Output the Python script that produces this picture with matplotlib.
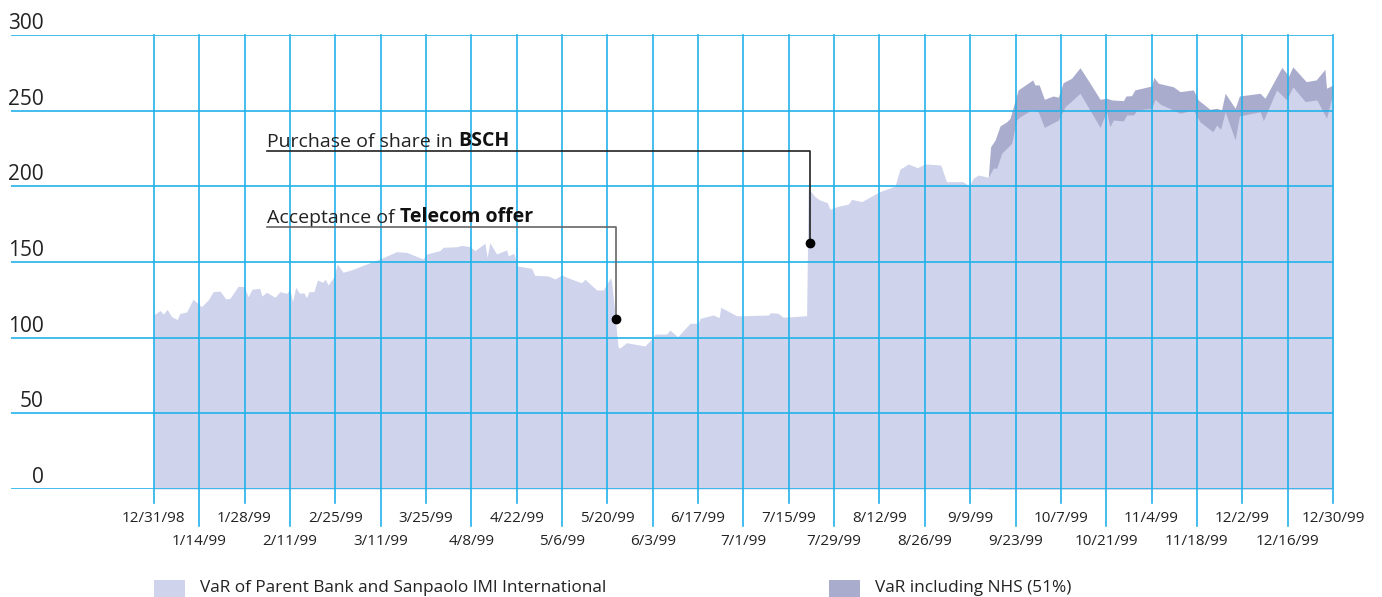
import numpy as np
import matplotlib.pyplot as plt
from matplotlib.patches import Rectangle

plt.rcParams['font.family'] = ['Open Sans', 'DejaVu Sans']

# days since 12/31/98 and VaR values
base_days = [0, 1.9, 2.9, 4.1, 5.5, 7.2, 8.0, 10.1, 12.1, 14.7, 16.8, 18.3, 20.4, 22.2, 23.5,
             26.0, 27.9, 29.1, 30.3, 32.7, 33.3, 34.8, 37.4, 38.9, 41.0, 42.0, 42.8, 43.8, 44.9,
             46.3, 47.1, 47.9, 49.4, 50.5, 52.1, 52.9, 53.8, 55.6, 56.6, 58.4, 61.5, 65.7, 69.8,
             74.9, 78.0, 83.1, 84.2, 88.3, 89.3, 93.5, 95.0, 97.6, 99.1, 102.2, 102.9, 103.7,
             105.8, 108.9, 109.4, 111.1, 111.8, 112.2, 116.6, 117.6, 121.7, 123.8, 125.9, 129.0,
             132.0, 133.1, 136.7, 138.7, 141.0, 141.3, 142.0, 143.3, 143.8, 145.9, 151.6, 154.2,
             154.7, 158.3, 159.3, 161.7, 165.5, 168.0, 168.6, 172.7, 174.5, 175.0, 179.9, 182.0,
             189.7, 190.4, 192.7, 194.3, 201.5, 202.0, 204.1, 205.6, 207.9, 208.7, 210.8, 214.4,
             215.4, 218.5, 224.1, 228.8, 230.3, 232.9, 235.7, 238.0, 242.9, 244.7, 249.8, 251.7,
             252.9, 254.5, 257.6, 259.1, 260.2, 261.7, 264.8, 266.3, 267.4, 271.0, 273.0, 274.9,
             279.2, 281.3, 285.9, 292.1, 294.1, 295.1, 296.2, 299.3, 300.3, 302.4, 303.6, 308.0,
             309.1, 310.6, 316.8, 320.9, 322.9, 326.9, 328.1, 329.3, 330.7, 333.8, 335.1, 341.5,
             342.5, 346.6, 349.7, 351.6, 355.4, 359.0, 362.0, 364]
base_vals = [115, 118, 115.6, 118.7, 113.9, 112, 116, 117, 125.4, 120.5, 125, 130.4, 130.8, 125.6, 126,
             134, 133.7, 127, 132, 132.6, 127.5, 130, 126.7, 130.4, 129.3, 132, 123.8, 133.3, 129.3,
             129.7, 126.4, 130.4, 130.4, 138.1, 136.6, 138.6, 134.8, 140.3, 148.7, 143.2, 145.2, 148.7, 152,
             156.8, 156.4, 152, 155.3, 157.5, 159.7, 160.1, 161, 160.1, 157.5, 162.4, 153.1, 162.8,
             155.3, 158, 154, 155.8, 150.9, 147.4, 145.8, 141.2, 140.8, 138.8, 141.4, 138.6,
             136.3, 138.6, 131.5, 131.5, 139.6, 137, 122.7, 94, 93, 96.7, 94.5, 100.6,
             102.4, 102.4, 105, 100.6, 109.5, 109.5, 112.8, 115, 113.2, 120.1, 114.5, 114.5,
             115, 116.5, 116.1, 113.5, 114.5, 198.7, 193.2, 191, 189.2, 184.8, 186.6, 188.3,
             191.4, 189.9, 196.5, 200.2, 211.3, 214.8, 212.3, 214.8, 214.1, 203.1, 203.1, 200.2,
             205.3, 207.5, 206, 212, 212, 221.8, 228.4, 243.8, 246, 250.5, 249.3, 239,
             243.8, 252.6, 261.5, 239, 249.3, 239.4, 243.8, 243.2, 247.2, 247.2, 250.5, 251.6,
             257.5, 254.4, 248.3, 250.5, 242.7, 236.1, 240.5, 237.7, 249.3, 230.6, 246.5, 249.3,
             243.4, 263.7, 257.1, 265.8, 256, 257.1, 245, 261.5]

nhs_days = [257.6, 258.3, 259.7, 261.2, 263.3, 264.3, 266.8, 271.3, 272.0, 273.3, 274.9, 277.6,
            279.2, 280.7, 283.3, 285.9, 289.0, 292.1, 294.1, 295.7, 299.3, 300.1, 301.8, 302.8,
            308.0, 308.7, 310.1, 314.7, 316.8, 320.9, 322.4, 326.0, 328.1, 329.6, 330.7, 333.8,
            335.1, 341.5, 343.0, 348.2, 349.7, 350.2, 351.6, 355.7, 358.8, 361.5, 362.0, 364]
nhs_vals = [206.4, 226.2, 230.6, 239.9, 242.7, 244.9, 263.7, 270.3, 267, 267, 257.5, 259.7,
            258.9, 268.5, 271.4, 278.4, 268.1, 257.5, 258.2, 257.1, 256.6, 259.7, 259.9, 263.7,
            266.3, 272, 268.1, 265.8, 262.6, 263.7, 257.1, 250.9, 251.6, 250.5, 261.5, 251.6,
            259.7, 261.5, 258.2, 278.6, 274.6, 272.4, 279, 269.2, 270.3, 277.3, 264.8, 267]

tick_labels = ['12/31/98', '1/14/99', '1/28/99', '2/11/99', '2/25/99', '3/11/99', '3/25/99',
               '4/8/99', '4/22/99', '5/6/99', '5/20/99', '6/3/99', '6/17/99', '7/1/99',
               '7/15/99', '7/29/99', '8/12/99', '8/26/99', '9/9/99', '9/23/99', '10/7/99',
               '10/21/99', '11/4/99', '11/18/99', '12/2/99', '12/16/99', '12/30/99']
y_ticks = [0, 50, 100, 150, 200, 250, 300]

# events: day, value at the dot, label (regular part, bold part)
event_days = [142.6, 202.5]
event_vals = [112.4, 162.6]
event_texts = [('Acceptance of', 'Telecom offer'), ('Purchase of share in', 'BSCH')]

light = '#cfd4ec'
dark = '#a9accc'
grid = '#22b2ea'

fig = plt.figure(figsize=(13.82, 5.97), dpi=100)
ax = fig.add_axes([11 / 1382, 1 - 489 / 597, (1333 - 11) / 1382, (489 - 35) / 597])
ax.set_xlim(-44.1, 364)
ax.set_ylim(0, 300)
ax.axis('off')

ax.fill_between(nhs_days, 0, nhs_vals, color=dark, lw=0, zorder=1)
ax.fill_between(base_days, 0, base_vals, color=light, lw=0, zorder=2)

tick_days = np.arange(len(tick_labels)) * 14
ax.hlines(y_ticks, -44.1, 364, color=grid, lw=1.2, zorder=3)
for i, (d, lab) in enumerate(zip(tick_days, tick_labels)):
    low = -9.3 if i % 2 == 0 else -24.5
    ax.plot([d, d], [low, 300], color=grid, lw=1.2, zorder=3, clip_on=False)
    ty = -19.2 if i % 2 == 0 else -34.8
    ax.text(d, ty, lab, ha='center', va='center', fontsize=11, color='#222222', clip_on=False)

for v in y_ticks:
    ax.text(-34, v + 4, str(v), ha='right', va='baseline', fontsize=15, color='#222222')

# annotations
text_day = 34.9
line_vals = [173.2, 223.4]
line_colors = ['#666666', '#222222']
for d, v, (reg, bold), lv, lc in zip(event_days, event_vals, event_texts, line_vals, line_colors):
    ax.plot([text_day, d, d], [lv, lv, v], color=lc, lw=1.2, zorder=5)
    ax.plot(d, v, 'o', color='black', ms=6, zorder=6)
    t = ax.text(text_day, lv + 2.8, reg + ' ', ha='left', va='baseline', fontsize=14, color='#222222')
    ax.annotate(bold, xy=(1, 0), xycoords=t, ha='left', va='bottom', fontsize=14,
                fontweight='bold', color='#111111')

# legend
fig.add_artist(Rectangle((154 / 1382, 0), 31 / 1382, 17 / 597, transform=fig.transFigure,
                         color=light, lw=0))
fig.text(200 / 1382, 1 - 588 / 597, 'VaR of Parent Bank and Sanpaolo IMI International',
         ha='left', va='center', fontsize=12.4, color='#222222')
fig.add_artist(Rectangle((829 / 1382, 0), 31 / 1382, 17 / 597, transform=fig.transFigure,
                         color=dark, lw=0))
fig.text(875 / 1382, 1 - 588 / 597, 'VaR including NHS (51%)',
         ha='left', va='center', fontsize=12.4, color='#222222')

plt.savefig('out.png', dpi=100)
